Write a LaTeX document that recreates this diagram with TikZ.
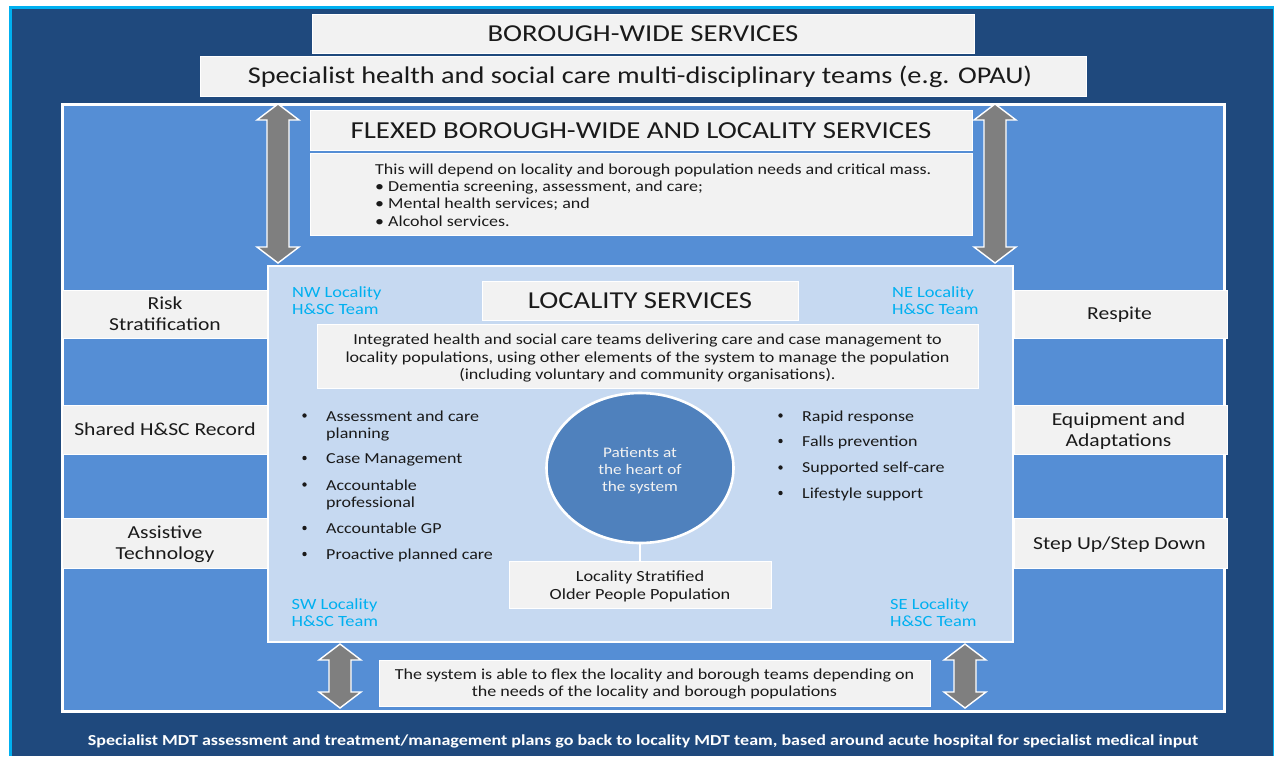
\documentclass[tikz,border=0pt]{standalone}
\usepackage{fontspec}
\setmainfont[FakeStretch=1.18]{Carlito}
\usetikzlibrary{shapes.geometric}
\definecolor{navy}{HTML}{1F497D}
\definecolor{cyanline}{HTML}{00B0F0}
\definecolor{midblue}{HTML}{558ED5}
\definecolor{paleblue}{HTML}{C6D9F1}
\definecolor{boxgrey}{HTML}{F2F2F2}
\definecolor{circleblue}{HTML}{4F81BD}
\definecolor{arrowgrey}{HTML}{7F7F7F}
\definecolor{inktext}{HTML}{1A1A1A}
\newcommand{\fsz}[2]{\fontsize{#1pt}{#2pt}\selectfont}
\newcommand{\blockarrow}[4]{% cx, top, bottom, head half-width
  \draw[white,line width=1.4pt,fill=arrowgrey,line join=miter]
    (#1,#2) -- ++(#4,16) -- ++(-#4+11,0) -- (#1+11,#3-16) -- ++(#4-11,0) -- (#1,#3)
    -- ++(-#4,-16) -- ++(#4-11,0) -- (#1-11,#2+16) -- ++(-#4+11,0) -- cycle;}
\tikzset{
  x=1pt,y=-1pt,
  panel/.style={draw=white,line width=0.8pt,fill=boxgrey,inner sep=0pt,outer sep=0pt,anchor=north west},
  paneltext/.style={text=inktext,inner sep=0pt,align=center},
  bodytext/.style={text=inktext,inner sep=0pt,align=left,anchor=west,font=\fsz{15.25}{17.3}},
  team/.style={text=cyanline,inner sep=0pt,align=left,anchor=north west,font=\fsz{15.6}{17}},
  dot/.style={circle,fill=inktext,inner sep=0pt,minimum size=4.4pt},
}
\newcommand{\pbox}[7][]{% opts for text; x1 y1 x2 y2 name text
  \node[panel,minimum width=#4-#2,minimum height=#5-#3] (#6) at (#2,#3) {};
  \node[paneltext,#1] (#6 text) at (#6.center) {#7};}
\begin{document}
\begin{tikzpicture}
\useasboundingbox (0,0) rectangle (1274,756);
\fill[white] (0,0) rectangle (1274,756);
\fill[cyanline] (9,6) rectangle (1274,756);
\fill[navy] (12,9) rectangle (1273,756);
\fill[midblue,draw=white,line width=3pt] (62,104) rectangle (1224,711);

\pbox[font=\fsz{24.3}{27}]{312}{14}{974}{53}{borough}{BOROUGH-WIDE SERVICES}
\pbox[font=\fsz{24}{27},yshift=-1pt,xshift=-3pt]{200}{56}{1086}{96}{specialist}{Specialist health and social care multi-disciplinary teams (e.g. OPAU)}
\pbox[font=\fsz{24.4}{27},yshift=-1pt]{310}{110}{972}{150}{flexed}{FLEXED BOROUGH-WIDE AND LOCALITY SERVICES}
\pbox{310}{153}{972}{235}{flexbody}{}
\node[bodytext,anchor=north west] (flextext) at (375,163.5) {This will depend on locality and borough population needs and critical mass.\\
\textbullet\ Dementia screening, assessment, and care;\\
\textbullet\ Mental health services; and\\
\textbullet\ Alcohol services.};

\blockarrow{278}{104}{263}{21}
\blockarrow{995}{104}{263}{21}

% side strips
\pbox[font=\fsz{18.3}{21}]{62}{290}{268}{338}{risk}{Risk\\Stratification}
\pbox[font=\fsz{18.3}{21}]{62}{405}{268}{454}{shared}{Shared H\&SC Record}
\pbox[font=\fsz{18.3}{21},yshift=-1pt]{62}{518}{268}{568}{assistive}{Assistive\\Technology}
\pbox[font=\fsz{18.3}{21},yshift=-1pt,xshift=-1pt]{1014}{290}{1227}{338}{respite}{Respite}
\pbox[font=\fsz{18.3}{21},yshift=-2pt,xshift=-2pt]{1014}{405}{1227}{454}{equipment}{Equipment and\\Adaptations}
\pbox[font=\fsz{18.3}{21},yshift=-2pt,xshift=-1pt]{1014}{518}{1227}{568}{stepup}{Step Up/Step Down}

% locality panel
\node[draw=white,line width=2.4pt,fill=paleblue,minimum width=745,minimum height=376,anchor=north west,inner sep=0pt,outer sep=0pt] (locality) at (268,266) {};
\node[team] (nw) at (292,286) {NW Locality\\H\&SC Team};
\node[team] (ne) at (892,286) {NE Locality\\H\&SC Team};
\node[team] (sw) at (291.5,598.5) {SW Locality\\H\&SC Team};
\node[team] (se) at (890,598.5) {SE Locality\\H\&SC Team};
\pbox[font=\fsz{24.3}{27}]{482}{281}{798}{320}{loctitle}{LOCALITY SERVICES}
\pbox[font=\fsz{15.3}{17.3},yshift=-2pt]{317}{324}{978}{388}{integrated}{Integrated health and social care teams delivering care and case management to\\locality populations, using other elements of the system to manage the population\\(including voluntary and community organisations).}

\node[ellipse,draw=white,line width=2.6pt,fill=circleblue,minimum width=187,minimum height=150,inner sep=0pt,outer sep=0pt] (heart) at (640,468) {};
\node[text=boxgrey,inner sep=0pt,align=center,font=\fsz{14.6}{17.3},yshift=-2.5pt] (hearttext) at (heart.center) {Patients at\\the heart of\\the system};
\pbox[font=\fsz{15.5}{17.3},yshift=-2pt]{509}{561}{771}{608}{strat}{Locality Stratified\\Older People Population}
\draw[white,line width=2pt] (heart.south) -- (heart.south |- strat.north);

% left list
\node[dot] (la) at (304.5,415.5) {};
\node[dot] (lb) at (304.5,458) {};
\node[dot] (lc) at (304.5,484.5) {};
\node[dot] (ld) at (304.5,528) {};
\node[dot] (le) at (304.5,554) {};
\node[bodytext,anchor=north west] (lat) at (326,410.5) {Assessment and care\\planning};
\node[bodytext] (lbt) at (326,459.5) {Case Management};
\node[bodytext,anchor=north west] (lct) at (326,479.5) {Accountable\\professional};
\node[bodytext] (ldt) at (326,528) {Accountable GP};
\node[bodytext] (let) at (326,555) {Proactive planned care};
% right list
\node[dot] (ra) at (780.5,415.5) {};
\node[dot] (rb) at (780.5,441) {};
\node[dot] (rc) at (780.5,467.5) {};
\node[dot] (rd) at (780.5,493) {};
\node[bodytext] (rat) at (802,417) {Rapid response};
\node[bodytext] (rbt) at (802,442.5) {Falls prevention};
\node[bodytext] (rct) at (802,468.5) {Supported self-care};
\node[bodytext] (rdt) at (802,494.5) {Lifestyle support};

% bottom
\blockarrow{340}{644}{708}{21}
\blockarrow{965}{644}{708}{21}
\pbox[font=\fsz{15.3}{17.3},yshift=-1pt]{379}{660}{930}{706}{flexnote}{The system is able to flex the locality and borough teams depending on\\the needs of the locality and borough populations}
\node[text=white,inner sep=0pt,font=\fsz{15.27}{17}\bfseries] (footer) at (643,741) {Specialist MDT assessment and treatment/management plans go back to locality MDT team, based around acute hospital for specialist medical input};
\end{tikzpicture}
\end{document}
